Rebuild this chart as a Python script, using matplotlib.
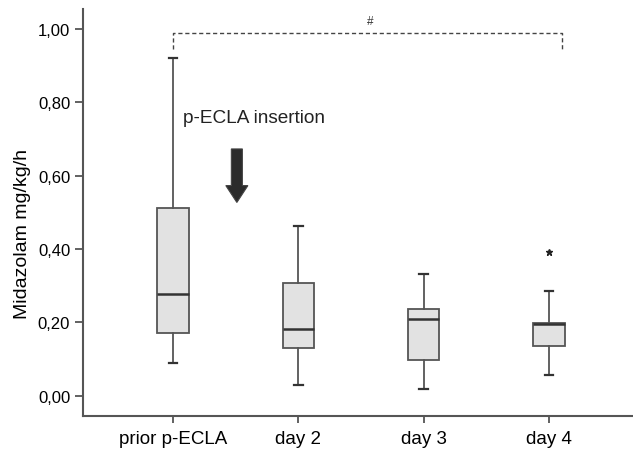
import matplotlib
matplotlib.use("Agg")
import matplotlib.pyplot as plt

plt.rcParams['font.family'] = ['Liberation Sans', 'DejaVu Sans']

# box statistics (Midazolam mg/kg/h)
groups = ['prior p-ECLA', 'day 2', 'day 3', 'day 4']
whisk_lo = [0.088, 0.030, 0.019, 0.056]
q1 = [0.170, 0.130, 0.097, 0.134]
medians = [0.278, 0.181, 0.209, 0.195]
q3 = [0.511, 0.306, 0.235, 0.197]
whisk_hi = [0.920, 0.462, 0.331, 0.285]
outliers = [[], [], [], [0.391]]

yticks = [0.0, 0.2, 0.4, 0.6, 0.8, 1.0]
ytick_labels = ['0,00', '0,20', '0,40', '0,60', '0,80', '1,00']

stats = []
for i, g in enumerate(groups):
    stats.append({'label': g, 'whislo': whisk_lo[i], 'q1': q1[i], 'med': medians[i],
                  'q3': q3[i], 'whishi': whisk_hi[i], 'fliers': outliers[i]})

fig = plt.figure(figsize=(6.33, 4.52), dpi=100)
ax = fig.add_axes([0.1306, 0.078, 0.8694, 0.9])

edge = '#555555'
ax.bxp(stats, positions=[1, 2, 3, 4], widths=0.25, patch_artist=True,
       boxprops=dict(facecolor='#e2e2e2', edgecolor=edge, linewidth=1.3),
       medianprops=dict(color='#333333', linewidth=1.8),
       whiskerprops=dict(color=edge, linewidth=1.3),
       capprops=dict(color='#333333', linewidth=1.6),
       capwidths=0.07,
       flierprops=dict(marker='*', markersize=5, markerfacecolor='#222222',
                       markeredgecolor='#222222', linestyle='none'))

ax.set_xlim(0.28, 4.67)
ax.set_ylim(-0.055, 1.055)
ax.set_yticks(yticks)
ax.set_yticklabels(ytick_labels)
ax.set_xticks([1, 2, 3, 4])
ax.set_xticklabels(groups)
ax.tick_params(axis='y', labelsize=12, length=6, width=1.3, color=edge, pad=3)
ax.tick_params(axis='x', labelsize=13.5, length=5, width=1.3, color=edge, pad=5)
ax.set_ylabel('Midazolam mg/kg/h', fontsize=14)
ax.yaxis.set_label_coords(-0.094, 0.45)

for s in ['top', 'right']:
    ax.spines[s].set_visible(False)
for s in ['left', 'bottom']:
    ax.spines[s].set_color(edge)
    ax.spines[s].set_linewidth(1.5)

# significance bracket
ax.plot([1, 1, 4.1, 4.1], [0.945, 0.99, 0.99, 0.945], linestyle=(0, (3, 2)),
        color='#444444', linewidth=1.0)
ax.text(2.57, 1.005, '#', fontsize=8.5, ha='center', va='bottom', color='#333333')

# insertion marker
ax.text(1.08, 0.76, 'p-ECLA insertion', fontsize=13.7, ha='left', va='center', color='#222222')
ax.arrow(1.51, 0.673, 0, -0.146, width=0.088, head_width=0.176, head_length=0.046,
         length_includes_head=True, facecolor='#2b2b2b', edgecolor='#444444', linewidth=0.8)

fig.savefig('out.png', dpi=100)
